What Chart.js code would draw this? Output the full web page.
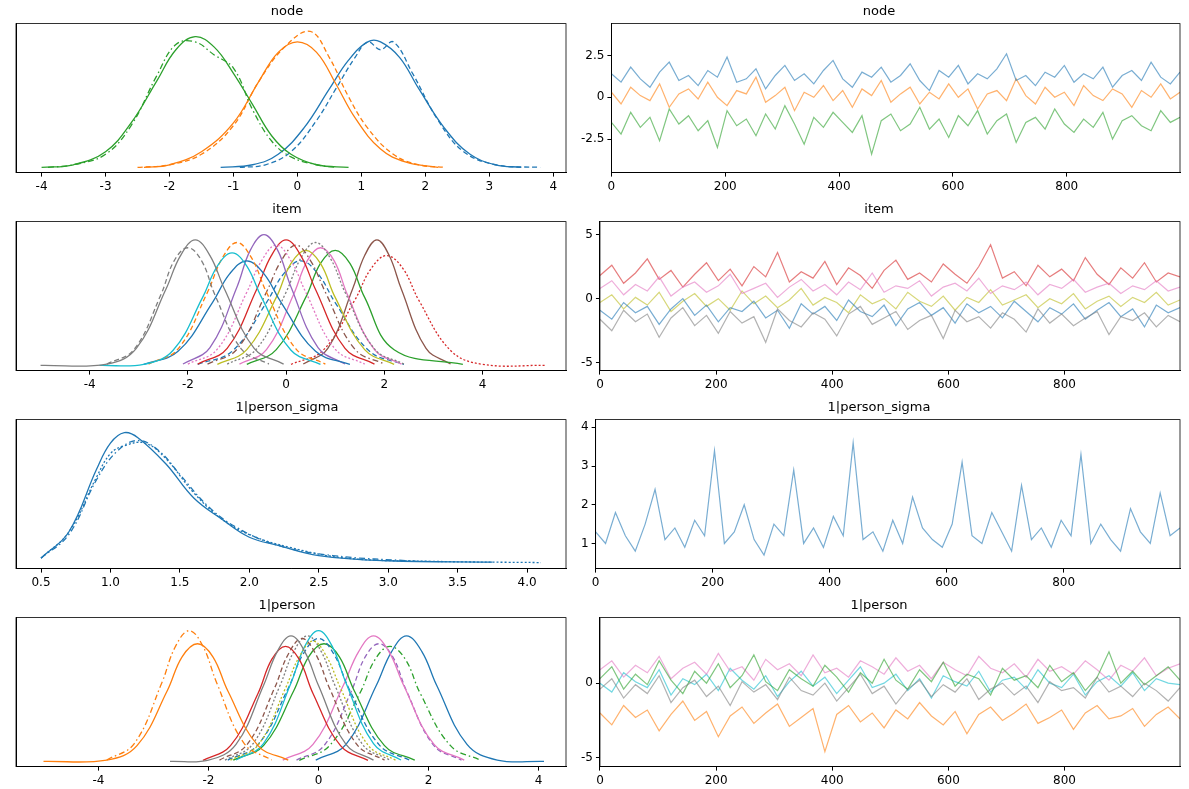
<!DOCTYPE html>
<html>
<head>
<meta charset="utf-8">
<script src="https://cdn.jsdelivr.net/npm/chart.js@4/dist/chart.umd.min.js"></script>
<style>
body { margin: 0; background: #fff; }
.box { position: absolute; }
</style>
</head>
<body>
<div id="wrap"></div>
<script>
const C = { blue: "#1f77b4", orange: "#ff7f0e", green: "#2ca02c", red: "#d62728", purple: "#9467bd",
    brown: "#8c564b", pink: "#e377c2", grey: "#7f7f7f", olive: "#bcbd22", cyan: "#17becf" };

// tick labels
const nodeKdeTicks = [-4, -3, -2, -1, 0, 1, 2, 3, 4];
const itemKdeTicks = [-4, -2, 0, 2, 4];
const sigmaKdeTicks = [0.5, 1.0, 1.5, 2.0, 2.5, 3.0, 3.5, 4.0];
const personKdeTicks = [-4, -2, 0, 2, 4];
const drawTicks = [0, 200, 400, 600, 800];

// ---- KDE curves (left column) ----
const nodeCurves = [
    { color: C.green, dash: [], pts: [[-4,0],[-3.5,0.01],[-3,0.06],[-2.6,0.17],[-2.2,0.33],[-1.9,0.45],[-1.6,0.5],[-1.3,0.46],[-1.0,0.36],[-0.7,0.24],[-0.4,0.12],[-0.1,0.05],[0.3,0.01],[0.8,0]] },
    { color: C.green, dash: [6,3,1.5,3], pts: [[-3.9,0],[-3.5,0.01],[-3,0.05],[-2.6,0.16],[-2.2,0.35],[-1.9,0.47],[-1.6,0.48],[-1.3,0.43],[-1.0,0.38],[-0.7,0.22],[-0.4,0.1],[-0.1,0.04],[0.3,0.01],[0.6,0]] },
    { color: C.orange, dash: [], pts: [[-2.4,0],[-2,0.01],[-1.5,0.06],[-1,0.17],[-0.6,0.33],[-0.3,0.44],[0,0.48],[0.3,0.44],[0.6,0.32],[0.9,0.19],[1.3,0.07],[1.7,0.02],[2.2,0]] },
    { color: C.orange, dash: [5,3], pts: [[-2.5,0],[-2,0.01],[-1.5,0.05],[-1,0.16],[-0.6,0.33],[-0.2,0.46],[0.2,0.52],[0.5,0.42],[0.8,0.27],[1.1,0.15],[1.5,0.05],[1.9,0.01],[2.3,0]] },
    { color: C.blue, dash: [], pts: [[-1.2,0],[-0.7,0.01],[-0.3,0.05],[0.1,0.15],[0.5,0.3],[0.8,0.41],[1.1,0.48],[1.3,0.48],[1.6,0.42],[1.9,0.3],[2.3,0.15],[2.7,0.05],[3.1,0.01],[3.5,0]] },
    { color: C.blue, dash: [5,3], pts: [[-0.9,0],[-0.5,0.01],[-0.1,0.06],[0.3,0.18],[0.6,0.3],[0.9,0.42],[1.1,0.48],[1.3,0.45],[1.5,0.48],[1.8,0.36],[2.2,0.18],[2.6,0.06],[3.1,0.01],[3.8,0]] }
];

const itemColors = [C.grey, C.grey, C.cyan, C.orange, C.blue, C.purple, C.pink, C.red, C.brown, C.olive, C.grey, C.pink, C.green, C.blue, C.brown, C.red];
const itemDash = [[], [5,3], [], [5,3], [], [], [2,2], [], [6,3,1.5,3], [], [2,2], [], [], [5,3], [], [2,2]];
const itemX = [
    [-5,-3.65,-3.05,-2.45,-2.15,-1.85,-1.55,-1.25,-0.65,-0.05],
    [-3.65,-3.1,-2.55,-2.28,-2.0,-1.72,-1.45,-0.9,-0.35],
    [-3.8,-2.9,-2.3,-1.7,-1.4,-1.1,-0.8,-0.5,0.1,0.7],
    [-2.8,-2.2,-1.6,-1.3,-1.0,-0.7,-0.4,0.2,0.8],
    [-2.9,-2.2,-1.5,-1.15,-0.8,-0.45,-0.1,0.6,1.3],
    [-2.1,-1.55,-1.0,-0.73,-0.45,-0.17,0.1,0.65,1.2],
    [-2.0,-1.4,-0.8,-0.5,-0.2,0.1,0.4,1.0,1.6],
    [-1.8,-1.2,-0.6,-0.3,0,0.3,0.6,1.2,1.8],
    [-1.6,-1.0,-0.4,-0.1,0.2,0.5,0.8,1.4,2.0],
    [-1.4,-0.8,-0.2,0.1,0.4,0.7,1.0,1.6,2.2],
    [-1.2,-0.6,0,0.3,0.6,0.9,1.2,1.8,2.4],
    [-0.95,-0.4,0.15,0.43,0.7,0.98,1.25,1.8,2.35],
    [-0.8,-0.2,0.4,0.7,1.0,1.3,1.6,2.2,3.6],
    [-1.8,-1.1,-0.4,-0.05,0.3,0.65,1.0,1.7,2.4],
    [0.35,0.85,1.35,1.6,1.85,2.1,2.35,2.85,3.35],
    [0.1,0.75,1.4,1.73,2.05,2.38,2.7,3.35,4.0,5.3]
];
const itemY = [
    [0,0.005,0.065,0.29,0.42,0.48,0.42,0.29,0.065,0.005],
    [0.005,0.06,0.27,0.40,0.45,0.40,0.27,0.06,0.005],
    [0,0.004,0.058,0.26,0.38,0.43,0.38,0.26,0.058,0.004],
    [0.005,0.063,0.28,0.41,0.47,0.41,0.28,0.063,0.005],
    [0.004,0.054,0.24,0.35,0.40,0.35,0.24,0.054,0.004],
    [0.005,0.068,0.30,0.44,0.50,0.44,0.30,0.068,0.005],
    [0.005,0.062,0.28,0.40,0.46,0.40,0.28,0.062,0.005],
    [0.005,0.065,0.29,0.42,0.48,0.42,0.29,0.065,0.005],
    [0.005,0.062,0.28,0.40,0.46,0.40,0.28,0.062,0.005],
    [0.004,0.06,0.26,0.39,0.44,0.39,0.26,0.06,0.004],
    [0.005,0.063,0.28,0.41,0.47,0.41,0.28,0.063,0.005],
    [0.005,0.06,0.27,0.40,0.45,0.40,0.27,0.06,0.005],
    [0.004,0.06,0.26,0.39,0.44,0.39,0.26,0.06,0.004],
    [0.004,0.054,0.24,0.35,0.40,0.35,0.24,0.054,0.004],
    [0.005,0.065,0.29,0.42,0.48,0.42,0.29,0.065,0.005],
    [0.004,0.057,0.25,0.37,0.42,0.37,0.25,0.057,0.004,0]
];

const sigmaCurves = [
    { color: C.blue, dash: [], pts: [[0.5,0.02],[0.7,0.12],[0.9,0.36],[1.0,0.46],[1.1,0.5],[1.2,0.48],[1.4,0.38],[1.6,0.25],[1.8,0.17],[2.0,0.1],[2.2,0.07],[2.5,0.03],[3.0,0.01],[3.75,0.005]] },
    { color: C.blue, dash: [2,2], pts: [[0.5,0.02],[0.7,0.12],[0.9,0.33],[1.0,0.42],[1.1,0.45],[1.25,0.46],[1.4,0.4],[1.6,0.27],[1.8,0.17],[2.0,0.11],[2.3,0.06],[2.7,0.02],[3.3,0.008],[4.1,0.003]] },
    { color: C.blue, dash: [6,3,1.5,3], pts: [[0.5,0.02],[0.7,0.11],[0.9,0.32],[1.05,0.43],[1.2,0.47],[1.35,0.43],[1.5,0.34],[1.7,0.22],[1.9,0.14],[2.2,0.07],[2.6,0.03],[3.2,0.008]] }
];

const personColors = [C.orange, C.orange, C.grey, C.brown, C.red, C.olive, C.cyan, C.blue, C.green, C.pink, C.purple, C.green, C.blue, C.grey];
const personDash = [[], [6,3,1.5,3], [], [5,3], [], [2,2], [], [5,3], [], [], [5,3], [6,3,1.5,3], [], [2,2]];
const personX = [
    [-5,-3.85,-3.3,-2.75,-2.48,-2.2,-1.92,-1.65,-1.1,-0.55],
    [-3.85,-3.35,-2.85,-2.6,-2.35,-2.1,-1.85,-1.35,-0.85],
    [-2.7,-2.0,-1.5,-1.0,-0.75,-0.5,-0.25,0,0.5,1.0],
    [-1.8,-1.3,-0.8,-0.55,-0.3,-0.05,0.2,0.7,1.2],
    [-2.1,-1.6,-1.1,-0.85,-0.6,-0.35,-0.1,0.4,0.9],
    [-1.6,-1.1,-0.6,-0.35,-0.1,0.15,0.4,0.9,1.4],
    [-1.5,-1.0,-0.5,-0.25,0,0.25,0.5,1.0,1.5],
    [-1.65,-1.1,-0.55,-0.28,0,0.28,0.55,1.1,1.65],
    [-1.55,-1.0,-0.45,-0.18,0.1,0.38,0.65,1.2,1.75],
    [-0.65,-0.1,0.45,0.73,1.0,1.28,1.55,2.1,2.65],
    [-0.4,0.1,0.6,0.85,1.1,1.35,1.6,2.1,2.6],
    [-0.35,0.2,0.75,1.03,1.3,1.58,1.85,2.4,2.95],
    [-0.05,0.5,1.05,1.33,1.6,1.88,2.15,2.7,3.25,4.1],
    [-1.7,-1.2,-0.7,-0.45,-0.2,0.05,0.3,0.8,1.3]
];
const personY = [
    [0,0.005,0.06,0.27,0.40,0.45,0.40,0.27,0.06,0.005],
    [0.005,0.068,0.30,0.44,0.50,0.44,0.30,0.068,0.005],
    [0,0.005,0.065,0.29,0.42,0.48,0.42,0.29,0.065,0.005],
    [0.005,0.064,0.28,0.41,0.47,0.41,0.28,0.064,0.005],
    [0.004,0.06,0.26,0.39,0.44,0.39,0.26,0.06,0.004],
    [0.005,0.062,0.28,0.40,0.46,0.40,0.28,0.062,0.005],
    [0.005,0.068,0.30,0.44,0.50,0.44,0.30,0.068,0.005],
    [0.005,0.064,0.28,0.41,0.47,0.41,0.28,0.064,0.005],
    [0.005,0.06,0.27,0.40,0.45,0.40,0.27,0.06,0.005],
    [0.005,0.065,0.29,0.42,0.48,0.42,0.29,0.065,0.005],
    [0.005,0.06,0.27,0.40,0.45,0.40,0.27,0.06,0.005],
    [0.004,0.06,0.26,0.39,0.44,0.39,0.26,0.06,0.004],
    [0.005,0.065,0.29,0.42,0.48,0.42,0.29,0.065,0.005,0],
    [0.005,0.065,0.29,0.42,0.48,0.42,0.29,0.065,0.005]
];

// ---- traces (right column), thinned draws ----
const nodeTraceBlue = [1.4,0.9,1.8,1.1,0.6,1.5,2.1,1.0,1.3,0.7,1.6,1.2,2.4,0.9,1.1,1.7,0.5,1.3,1.9,1.0,1.4,0.8,1.6,2.2,1.1,0.6,1.5,1.2,1.8,0.9,1.3,2.0,1.0,0.4,1.6,1.2,1.9,0.8,1.4,1.1,1.7,2.6,1.0,1.3,0.7,1.5,1.2,1.9,0.9,1.4,1.1,1.8,0.6,1.3,1.6,1.0,2.1,1.2,0.8,1.5];
const nodeTraceOrange = [0.3,-0.4,0.6,0.1,-0.2,0.8,-0.6,0.2,0.5,-0.1,0.9,0.0,-0.5,0.4,0.2,1.2,-0.3,0.1,0.6,-0.8,0.3,0.0,0.7,-0.2,0.4,-0.6,0.5,0.1,1.0,-0.3,0.2,0.6,-0.4,0.3,-0.1,0.8,0.0,0.5,-0.7,0.2,0.4,-0.2,1.1,0.1,-0.4,0.6,0.0,0.3,-0.5,0.7,0.1,-0.2,0.5,0.2,-0.6,0.4,0.0,0.8,-0.1,0.3];
const nodeTraceGreen = [-1.5,-2.2,-0.9,-1.8,-1.2,-2.6,-0.7,-1.6,-1.1,-2.0,-1.4,-3.0,-0.8,-1.7,-1.3,-2.3,-1.0,-1.9,-0.5,-1.6,-2.8,-1.2,-1.8,-0.9,-1.5,-2.1,-1.1,-3.4,-1.4,-1.0,-2.0,-1.6,-0.6,-1.9,-1.3,-2.4,-1.1,-1.7,-0.8,-2.2,-1.4,-1.0,-2.7,-1.5,-1.2,-1.9,-0.7,-1.6,-2.1,-1.3,-1.8,-0.9,-2.5,-1.4,-1.1,-1.7,-2.0,-0.8,-1.5,-1.2];

const itemTraceGrey = [-1.6,-2.5,-0.9,-1.8,-1.2,-3.0,-1.5,-0.7,-2.1,-1.3,-2.7,-1.0,-1.9,-1.4,-3.4,-0.8,-1.7,-2.2,-1.1,-1.6,-2.9,-1.2,-0.6,-2.0,-1.5,-1.0,-2.4,-1.7,-1.3,-3.1,-0.9,-1.8,-1.4,-2.3,-1.1,-1.6,-2.6,-0.8,-1.9,-1.2,-2.1,-1.5,-1.0,-2.8,-1.4,-1.7,-1.1,-2.2,-1.3,-1.8];
const itemTraceBlue = [-0.9,-1.6,-0.3,-1.1,-0.6,-2.0,-0.8,0.0,-1.3,-0.5,-1.8,-0.7,-1.0,-0.2,-1.5,-0.9,-2.3,-0.4,-1.2,-0.6,-1.7,-0.1,-1.0,-1.4,-0.5,-2.1,-0.8,-0.3,-1.3,-0.7,-1.9,-0.4,-1.1,-0.6,-1.5,-0.2,-1.0,-1.8,-0.7,-1.2,-0.4,-1.6,-0.9,-0.3,-1.4,-0.8,-2.2,-0.5,-1.1,-0.7];
const itemTracePink = [0.8,1.4,0.3,1.1,0.6,1.7,0.2,0.9,1.3,0.5,1.0,1.9,0.4,0.8,1.2,0.1,0.9,1.5,0.6,1.1,0.3,1.3,0.7,2.0,0.5,1.0,0.8,1.4,0.2,0.9,1.2,0.6,1.6,0.4,1.0,0.7,1.3,0.3,1.1,0.8,1.5,0.5,0.9,1.2,0.4,1.0,0.7,1.4,0.6,0.9];
const itemTraceRed = [1.8,2.6,1.2,2.0,3.1,1.5,2.2,0.9,1.9,2.8,1.4,2.3,1.0,2.5,1.7,3.6,1.3,2.1,1.6,2.9,1.1,2.4,1.8,0.8,2.2,3.0,1.5,2.0,1.3,2.7,1.9,1.2,2.5,4.2,1.6,2.1,1.0,2.6,1.7,2.3,1.4,3.2,1.9,1.1,2.4,1.6,2.8,1.3,2.0,1.7];
const itemTraceOlive = [-0.3,0.3,-0.8,0.1,-0.5,0.5,-1.0,-0.2,0.4,-0.6,0.0,-0.9,0.6,-0.4,0.2,-0.7,-0.1,0.8,-0.5,0.1,-0.3,-1.1,0.3,-0.4,0.0,-0.8,0.5,-0.2,-0.6,0.2,-0.9,0.1,-0.3,0.7,-0.5,-0.1,0.3,-0.7,0.0,-0.4,0.4,-0.8,-0.2,0.2,-0.6,0.1,-0.3,0.5,-0.5,-0.1];

const sigmaTrace = [1.3,1.0,1.8,1.2,0.8,1.5,2.4,1.1,1.4,0.9,1.6,1.2,3.4,1.0,1.3,2.0,1.1,0.7,1.5,1.2,2.9,1.0,1.4,0.9,1.7,1.2,3.6,1.1,1.3,0.8,1.6,1.0,2.2,1.4,1.1,0.9,1.5,3.1,1.2,1.0,1.8,1.3,0.8,2.5,1.1,1.4,0.9,1.6,1.2,3.3,1.0,1.5,1.1,0.8,1.9,1.3,1.0,2.3,1.2,1.4];

const personTraceOrange = [-2.0,-2.8,-1.5,-2.3,-1.8,-3.2,-2.1,-1.2,-2.5,-1.9,-3.6,-2.2,-1.6,-2.7,-2.0,-1.4,-2.9,-2.3,-1.7,-4.6,-2.1,-1.5,-2.6,-2.0,-3.0,-1.8,-2.4,-1.3,-2.2,-2.8,-1.9,-3.4,-2.1,-1.6,-2.5,-2.0,-1.4,-2.7,-2.3,-1.8,-3.1,-2.0,-1.5,-2.4,-2.2,-1.7,-2.9,-2.1,-1.6,-2.4];
const personTraceGrey = [-0.4,0.3,-1.0,-0.1,-0.7,0.5,-1.3,-0.3,0.2,-0.9,-0.2,-1.5,0.1,-0.6,-0.1,-1.1,0.4,-0.5,-0.8,0.0,-1.2,-0.3,0.6,-0.7,-0.2,-1.4,-0.4,0.2,-0.9,-0.1,-0.6,0.3,-1.1,-0.4,0.0,-0.8,-0.2,-1.3,0.1,-0.5,-0.3,-1.0,0.4,-0.6,-0.2,-0.9,0.0,-0.5,-1.2,-0.3];
const personTraceGreen = [0.3,1.1,-0.4,0.6,-0.1,1.5,0.2,-0.7,0.8,0.0,1.3,-0.3,0.5,1.9,0.1,-0.5,0.9,0.3,-0.2,1.2,0.4,-0.6,0.7,0.0,1.6,0.2,-0.4,0.9,0.1,1.4,-0.2,0.6,0.3,-0.8,1.0,0.2,0.5,-0.3,1.2,0.1,0.7,-0.5,0.4,2.1,0.0,0.8,-0.1,0.5,1.1,0.2];
const personTracePink = [0.9,1.5,0.4,1.2,0.7,1.8,0.3,1.0,1.4,0.6,2.0,0.8,1.1,0.2,1.6,0.9,1.3,0.5,1.9,0.7,1.0,0.4,1.5,1.1,0.6,1.7,0.8,1.2,0.3,1.4,0.9,0.5,1.8,1.0,0.7,1.3,0.4,1.6,0.8,1.1,0.6,1.5,0.9,0.2,1.2,0.8,1.7,0.5,1.0,1.3];
const personTraceCyan = [0.0,-0.6,0.7,0.1,-0.3,0.9,-0.8,0.3,-0.1,0.6,-0.5,1.0,0.2,-0.4,0.5,-0.9,0.1,0.8,-0.2,0.4,-0.7,0.2,1.1,-0.3,0.0,0.6,-0.5,0.3,-1.0,0.5,0.1,-0.2,0.8,-0.6,0.2,0.4,-0.4,0.9,0.0,-0.3,0.6,-0.8,0.1,0.5,-0.2,0.7,-0.5,0.3,0.0,-0.1];

Chart.defaults.font.family = "'DejaVu Sans', sans-serif";
Chart.defaults.font.size = 12;
Chart.defaults.color = "#000";
Chart.defaults.animation = false;

const framePlugin = {
    id: "frame",
    afterDraw(chart) {
        const a = chart.chartArea, ctx = chart.ctx;
        ctx.save();
        ctx.strokeStyle = "#000";
        ctx.lineWidth = 0.8;
        ctx.strokeRect(a.left, a.top, a.right - a.left, a.bottom - a.top);
        ctx.restore();
    }
};

function makeBox(left, top, w, h) {
    const d = document.createElement("div");
    d.className = "box";
    d.style.cssText = `left:${left}px;top:${top}px;width:${w}px;height:${h}px`;
    const c = document.createElement("canvas");
    d.appendChild(c);
    document.getElementById("wrap").appendChild(d);
    return c;
}

function xAxis(min, max, ticks, fmt) {
    return {
        type: "linear", min: min, max: max,
        afterBuildTicks: ax => { ax.ticks = ticks.map(v => ({ value: v })); },
        ticks: { maxRotation: 0, autoSkip: false, font: { size: 12 }, callback: v => fmt ? v.toFixed(1) : String(v) },
        grid: { drawOnChartArea: false, drawTicks: true, tickLength: 4, color: "#000" },
        border: { color: "#000" }
    };
}

function kdeChart(top, title, curves, xmin, xmax, ticks, fmt) {
    const canvas = makeBox(0, top, 578, 197);
    new Chart(canvas, {
        type: "line",
        data: {
            datasets: curves.map(c => ({
                data: c.pts.map(p => ({ x: p[0], y: p[1] })),
                borderColor: c.color, borderDash: c.dash, borderWidth: 1.3,
                pointRadius: 0, tension: 0.4, fill: false
            }))
        },
        options: {
            responsive: true, maintainAspectRatio: false,
            layout: { padding: { left: 8, right: 12, top: 0, bottom: 0 } },
            plugins: { legend: { display: false }, tooltip: { enabled: false },
                title: { display: true, text: title, font: { size: 13, weight: "normal" }, padding: { top: 4, bottom: 4 } } },
            scales: {
                x: xAxis(xmin, xmax, ticks, fmt),
                y: { min: -0.02, max: 0.55, ticks: { display: false }, grid: { display: false }, border: { color: "#000" } }
            }
        },
        plugins: [framePlugin]
    });
}

function traceChart(top, title, series, ymin, ymax, ystep) {
    const canvas = makeBox(578, top, 611, 197);
    new Chart(canvas, {
        type: "line",
        data: {
            datasets: series.map(s => ({
                data: s.vals.map((v, i) => ({ x: i * 999 / (s.vals.length - 1), y: v })),
                borderColor: s.color + "99", borderWidth: 1.2,
                pointRadius: 0, tension: 0, fill: false
            }))
        },
        options: {
            responsive: true, maintainAspectRatio: false,
            layout: { padding: { left: 0, right: 9, top: 0, bottom: 0 } },
            plugins: { legend: { display: false }, tooltip: { enabled: false },
                title: { display: true, text: title, font: { size: 13, weight: "normal" }, padding: { top: 4, bottom: 4 } } },
            scales: {
                x: xAxis(0, 999, drawTicks, false),
                y: {
                    min: ymin, max: ymax,
                    afterBuildTicks: ax => { ax.ticks = ystep.map(v => ({ value: v })); },
                    ticks: { font: { size: 12 } },
                    grid: { drawOnChartArea: false, drawTicks: true, tickLength: 4, color: "#000" },
                    border: { color: "#000" }
                }
            }
        },
        plugins: [framePlugin]
    });
}

function curvesFrom(xs, ys, colors, dashes) {
    return xs.map((x, i) => ({ color: colors[i], dash: dashes[i], pts: x.map((v, j) => [v, ys[i][j]]) }));
}

kdeChart(0, "node", nodeCurves, -4.4, 4.2, nodeKdeTicks, false);
kdeChart(198, "item", curvesFrom(itemX, itemY, itemColors, itemDash), -5.5, 5.7, itemKdeTicks, false);
kdeChart(396, "1|person_sigma", sigmaCurves, 0.32, 4.28, sigmaKdeTicks, true);
kdeChart(594, "1|person", curvesFrom(personX, personY, personColors, personDash), -5.5, 4.5, personKdeTicks, false);

traceChart(0, "node", [
    { color: C.blue, vals: nodeTraceBlue },
    { color: C.orange, vals: nodeTraceOrange },
    { color: C.green, vals: nodeTraceGreen }
], -4.5, 4.4, [-2.5, 0, 2.5]);
traceChart(198, "item", [
    { color: C.grey, vals: itemTraceGrey },
    { color: C.blue, vals: itemTraceBlue },
    { color: C.pink, vals: itemTracePink },
    { color: C.red, vals: itemTraceRed },
    { color: C.olive, vals: itemTraceOlive }
], -5.6, 6, [-5, 0, 5]);
traceChart(396, "1|person_sigma", [
    { color: C.blue, vals: sigmaTrace }
], 0.35, 4.2, [1, 2, 3, 4]);
traceChart(594, "1|person", [
    { color: C.orange, vals: personTraceOrange },
    { color: C.grey, vals: personTraceGrey },
    { color: C.green, vals: personTraceGreen },
    { color: C.pink, vals: personTracePink },
    { color: C.cyan, vals: personTraceCyan }
], -5.6, 4.4, [-5, 0]);
</script>
</body>
</html>
